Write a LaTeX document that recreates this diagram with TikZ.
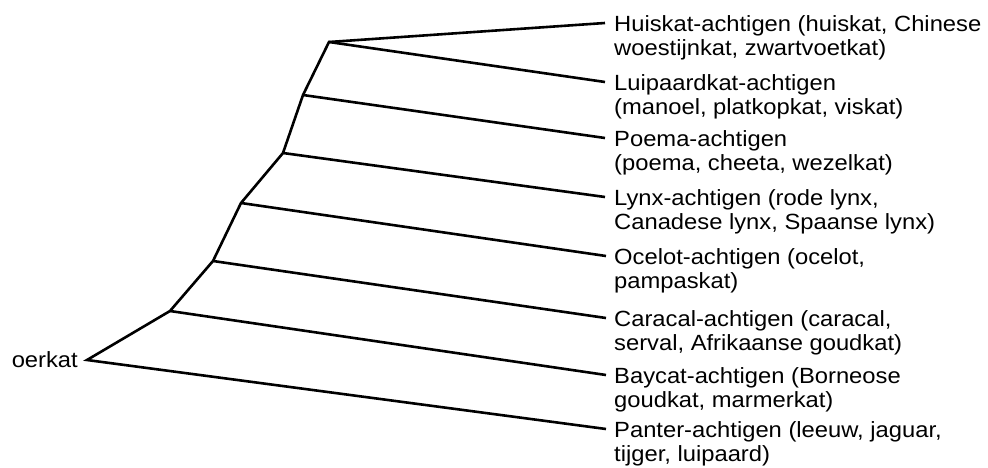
\documentclass[tikz,border=0pt]{standalone}
\usepackage{fontspec}
\setmainfont{Liberation Sans}[FakeStretch=1.08]
\usetikzlibrary{positioning}

\tikzset{
	tak/.style={line width=2.6pt},
	soort/.style={align=left, inner sep=0pt, font=\fontsize{22}{24}\selectfont},
}

\begin{document}
\begin{tikzpicture}[x=1pt,y=-1pt]
		\useasboundingbox (0,0) rectangle (988,468);
		\coordinate (r) at (87,360);
		\coordinate (a) at (170,311);
		\coordinate (b) at (213,261);
		\coordinate (c) at (241,203);
		\coordinate (d) at (283,153);
		\coordinate (e) at (303,95);
		\coordinate (f) at (329,42);
		\coordinate (t1) at (605,23);
		\coordinate (t2) at (605,82);
		\coordinate (t3) at (605,138);
		\coordinate (t4) at (605,197);
		\coordinate (t5) at (606,256);
		\coordinate (t6) at (606,318);
		\coordinate (t7) at (606,375);
		\coordinate (t8) at (606,429);
		\node[soort, left=9pt of r] (oer) {oerkat};
		\node[soort, below right=-8pt and 9pt of t1] (huis) {Huiskat-achtigen (huiskat, Chinese\\woestijnkat, zwartvoetkat)};
		\node[soort, below right=-8pt and 9pt of t2] (luip) {Luipaardkat-achtigen\\(manoel, platkopkat, viskat)};
		\node[soort, below right=-8pt and 9pt of t3] (poema) {Poema-achtigen\\(poema, cheeta, wezelkat)};
		\node[soort, below right=-8pt and 9pt of t4] (lynx) {Lynx-achtigen (rode lynx,\\Canadese lynx, Spaanse lynx)};
		\node[soort, below right=-8pt and 8pt of t5] (ocelot) {Ocelot-achtigen (ocelot,\\pampaskat)};
		\node[soort, below right=-8pt and 8pt of t6] (caracal) {Caracal-achtigen (caracal,\\serval, Afrikaanse goudkat)};
		\node[soort, below right=-8pt and 8pt of t7] (baycat) {Baycat-achtigen (Borneose\\goudkat, marmerkat)};
		\node[soort, below right=-8pt and 8pt of t8] (panter) {Panter-achtigen (leeuw, jaguar,\\tijger, luipaard)};
		\draw[tak] (t8) -- (r) -- (a) -- (b) -- (c) -- (d) -- (e) -- (f) -- (t1);
		\draw[tak] (f) -- (t2);
		\draw[tak] (e) -- (t3);
		\draw[tak] (d) -- (t4);
		\draw[tak] (c) -- (t5);
		\draw[tak] (b) -- (t6);
		\draw[tak] (a) -- (t7);
\end{tikzpicture}
\end{document}
